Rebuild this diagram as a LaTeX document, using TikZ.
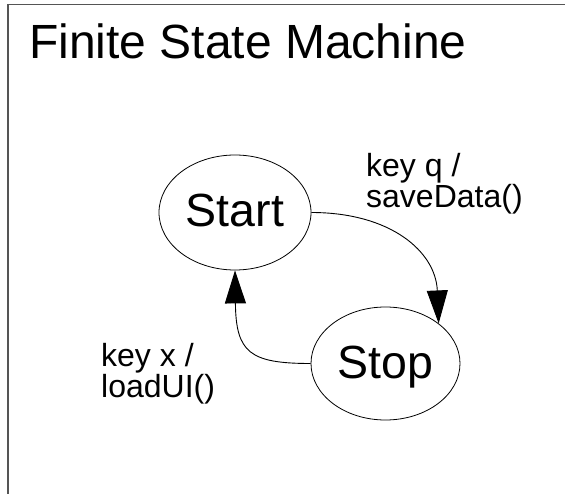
\documentclass[tikz,border=0pt]{standalone}
\usepackage{fontspec}
\setmainfont{Liberation Sans}
\usetikzlibrary{shapes.geometric,arrows.meta}
\definecolor{framegray}{HTML}{555555}
\begin{document}
\begin{tikzpicture}[x=1pt,y=-1pt,
  frameline/.style={draw=framegray, line width=1.4pt},
  state/.style={draw=black, line width=0.8pt, ellipse, inner sep=0pt,
    font=\fontsize{46.5}{46.5}\selectfont, text height=29pt, text depth=0pt},
  translabel/.style={inner sep=0pt, align=left, anchor=north west,
    font=\fontsize{32}{31}\selectfont},
  trans/.style={draw=black, line width=0.9pt, -{Triangle[length=33pt,width=21pt]}},
]
\useasboundingbox (0,0) rectangle (565,494);

% page frame, open to the right and bottom
\draw[frameline] (8,494) -- (8,4.3) -- (565,4.3);

% title
\node[inner sep=0pt, anchor=base west, font=\fontsize{48}{48}\selectfont]
  (title) at (29,59) {Finite State Machine};

% states
\node[state, minimum width=152pt, minimum height=115pt] (start) at (235,212.5) {Start};
\node[state, minimum width=149pt, minimum height=113pt] (stop) at (385.5,363.5) {Stop};

% transitions
\draw[trans] (start.east) .. controls +(79,0) and +(-3,-72) .. (stop.37);
\draw[trans] (stop.west) .. controls +(-61,0) and +(1,82) .. (start.south);

% transition labels
\node[translabel] (lq) at (366,153) {key q /\\saveData()};
\node[translabel] (lx) at (101,343) {key x /\\loadUI()};
\end{tikzpicture}
\end{document}
